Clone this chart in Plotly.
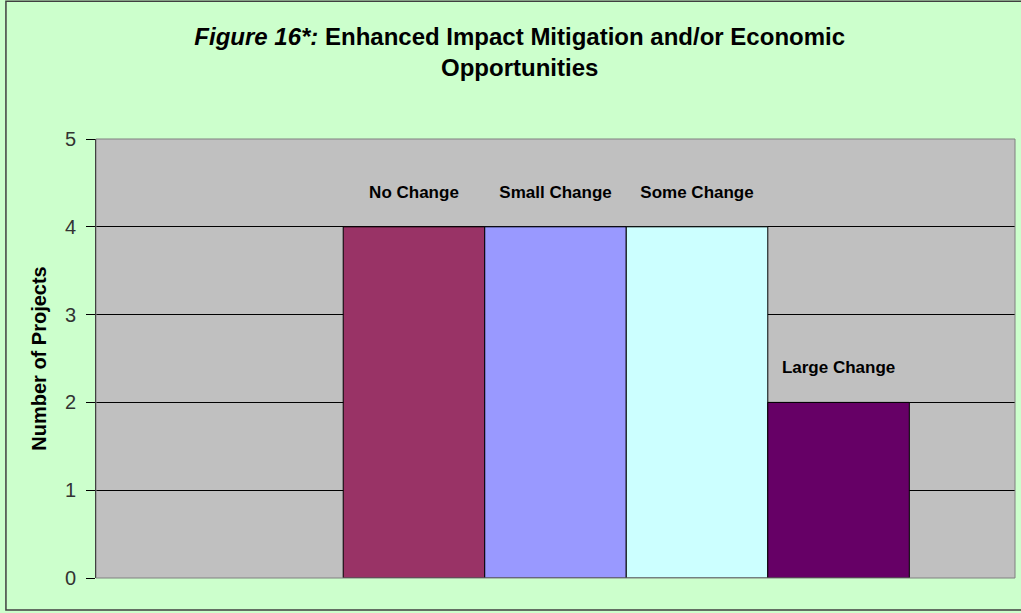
import plotly.graph_objects as go

# Data
series_names = ["", "No Change", "Small Change", "Some Change", "Large Change"]
series_values = [0, 4, 4, 4, 2]
series_colors = ["#C0C0C0", "#993366", "#9999FF", "#CCFFFF", "#660066"]
category = [""]
y_ticks = [0, 1, 2, 3, 4, 5]

fig = go.Figure()
for name, val, col in zip(series_names, series_values, series_colors):
    fig.add_trace(go.Bar(
        x=category, y=[val], name=name,
        marker=dict(color=col, line=dict(color="#000000", width=1 if val else 0)),
        text=[name + "<br> "] if val else [""],
        textposition="outside",
        textfont=dict(family="Liberation Sans, Arial, sans-serif", size=17, color="#000000", weight="bold"),
        cliponaxis=False,
        showlegend=False,
    ))

fig.update_layout(
    width=1021, height=613,
    margin=dict(l=96, r=6, t=139, b=35),
    paper_bgcolor="#CCFFCC",
    plot_bgcolor="#C0C0C0",
    barmode="group",
    bargap=0.23,
    bargroupgap=0,
    uniformtext=dict(minsize=17, mode="show"),
    font=dict(family="Liberation Sans, Arial, sans-serif", color="#000000"),
    title=dict(
        text="<b><i>Figure 16*:</i> Enhanced Impact Mitigation and/or Economic<br>Opportunities</b>",
        x=0.509, xanchor="center", xref="container",
        y=0.927, yanchor="top", yref="container",
        font=dict(size=24, color="#000000"),
    ),
    xaxis=dict(showticklabels=False, showgrid=False, zeroline=False, showline=False, ticks=""),
    yaxis=dict(
        range=[0, 5], tickvals=y_ticks, showgrid=True, gridcolor="#000000", gridwidth=1,
        zeroline=False, showline=True, linecolor="#000000", linewidth=1,
        ticks="outside", ticklen=9, tickcolor="#000000",
        ticklabelstandoff=6,
        tickfont=dict(size=20, color="#333333"),
        title=dict(text="<b>Number of Projects</b>", font=dict(size=20, color="#000000"), standoff=12),
    ),
    shapes=[
        dict(type="rect", xref="paper", yref="paper", x0=0, x1=1, y0=0, y1=1,
             line=dict(color="#808080", width=1), fillcolor="rgba(0,0,0,0)", layer="above"),
        dict(type="rect", xref="paper", yref="paper", x0=-0.098, x1=1.01, y0=-0.073, y1=1.314,
             line=dict(color="#404040", width=1.5), fillcolor="rgba(0,0,0,0)"),
    ],
)

fig.write_html("out.html", config={"displayModeBar": False},
               post_script="document.body.style.margin='0';document.body.style.overflow='hidden';")
